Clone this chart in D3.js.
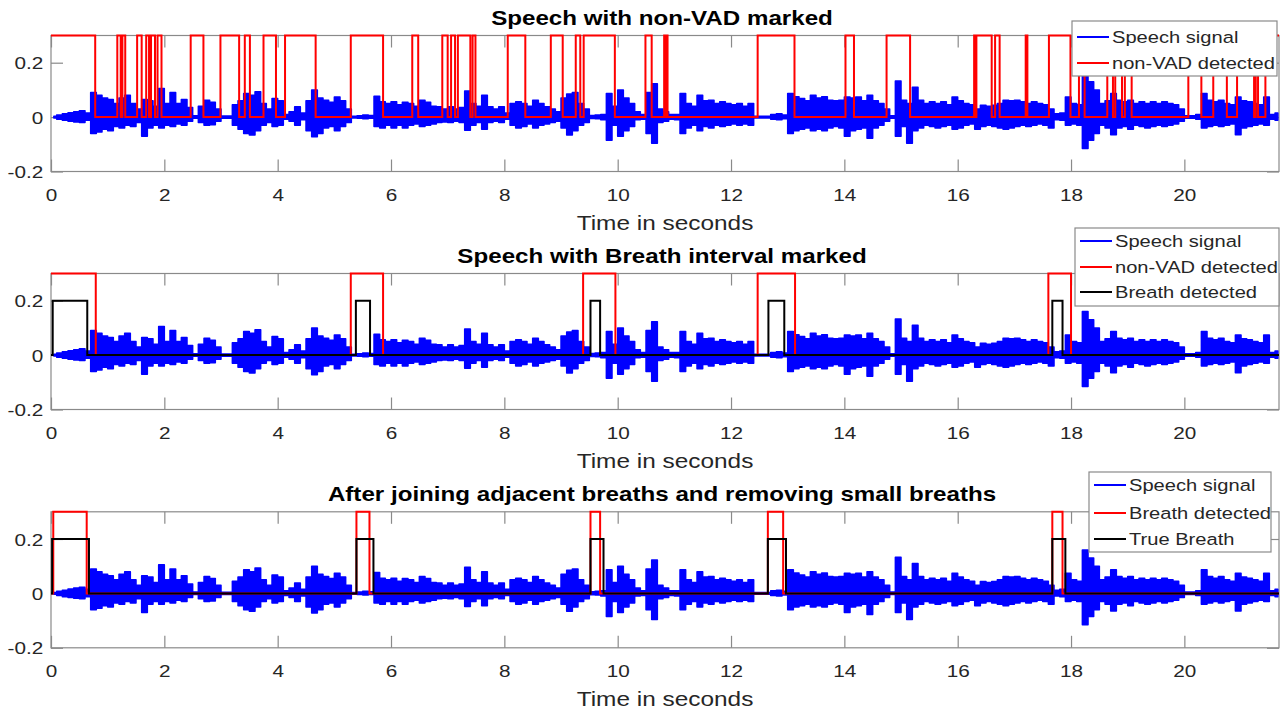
<!DOCTYPE html>
<html>
<head>
<meta charset="utf-8">
<script src="https://cdn.jsdelivr.net/npm/d3@7"></script>
<style>
  html, body { margin: 0; padding: 0; background: #fff; }
  svg { display: block; font-family: "Liberation Sans", Arial, Helvetica, sans-serif; }
</style>
</head>
<body>
<svg id="chart" width="1283" height="713"></svg>
<script>
// Speech envelope, one value per 0.1 s bin
const BIN = 0.1;
const T_END = 21.67;
const speechUpper = [
  0.003, 0.008, 0.012, 0.016, 0.02, 0.023, 0.015, 0.09, 0.08, 0.07,
  0.065, 0.05, 0.07, 0.08, 0.05, 0.03, 0.065, 0.06, 0.04, 0.105,
  0.05, 0.09, 0.05, 0.065, 0.035, 0.005, 0.04, 0.062, 0.055, 0.03,
  0.004, 0.004, 0.045, 0.06, 0.087, 0.08, 0.093, 0.05, 0.03, 0.068,
  0.06, 0.01, 0.02, 0.038, 0.015, 0.06, 0.1, 0.07, 0.062, 0.055,
  0.074, 0.06, 0.03, 0.003, 0.005, 0.008, 0.006, 0.077, 0.056, 0.05,
  0.056, 0.045, 0.055, 0.05, 0.04, 0.062, 0.055, 0.04, 0.038, 0.03,
  0.038, 0.03, 0.035, 0.096, 0.05, 0.04, 0.08, 0.038, 0.03, 0.038,
  0.015, 0.05, 0.056, 0.05, 0.04, 0.062, 0.05, 0.038, 0.03, 0.02,
  0.07, 0.085, 0.09, 0.05, 0.03, 0.006, 0.008, 0.01, 0.087, 0.04,
  0.1, 0.07, 0.05, 0.02, 0.01, 0.09, 0.123, 0.03, 0.02, 0.01,
  0.01, 0.087, 0.05, 0.04, 0.08, 0.06, 0.062, 0.05, 0.056, 0.05,
  0.045, 0.05, 0.04, 0.05, 0.003, 0.003, 0.003, 0.01, 0.012, 0.008,
  0.087, 0.075, 0.068, 0.06, 0.08, 0.07, 0.075, 0.062, 0.06, 0.062,
  0.074, 0.07, 0.074, 0.06, 0.08, 0.06, 0.05, 0.03, 0.005, 0.133,
  0.062, 0.05, 0.11, 0.062, 0.05, 0.056, 0.05, 0.056, 0.045, 0.074,
  0.06, 0.05, 0.045, 0.03, 0.044, 0.04, 0.044, 0.05, 0.062, 0.06,
  0.062, 0.056, 0.05, 0.056, 0.05, 0.045, 0.03, 0.012, 0.015, 0.074,
  0.05, 0.045, 0.16, 0.13, 0.1, 0.05, 0.06, 0.087, 0.062, 0.056,
  0.062, 0.05, 0.056, 0.05, 0.056, 0.05, 0.056, 0.05, 0.045, 0.03,
  0.005, 0.005, 0.01, 0.087, 0.062, 0.056, 0.062, 0.05, 0.045, 0.074,
  0.06, 0.056, 0.05, 0.045, 0.074, 0.01, 0.015
];
const speechLower = [
  -0.003, -0.008, -0.012, -0.015, -0.018, -0.02, -0.012, -0.06, -0.055, -0.045,
  -0.05, -0.035, -0.04, -0.03, -0.035, -0.02, -0.07, -0.04, -0.03, -0.04,
  -0.03, -0.035, -0.025, -0.03, -0.015, -0.004, -0.02, -0.03, -0.028, -0.015,
  -0.004, -0.004, -0.03, -0.045, -0.06, -0.066, -0.05, -0.03, -0.02, -0.035,
  -0.03, -0.008, -0.015, -0.03, -0.01, -0.05, -0.072, -0.06, -0.04, -0.035,
  -0.05, -0.035, -0.02, -0.003, -0.004, -0.006, -0.004, -0.035, -0.04, -0.03,
  -0.04, -0.03, -0.04, -0.03, -0.025, -0.035, -0.03, -0.025, -0.02, -0.018,
  -0.02, -0.015, -0.02, -0.048, -0.03, -0.02, -0.045, -0.02, -0.015, -0.02,
  -0.008, -0.03, -0.04, -0.035, -0.025, -0.04, -0.03, -0.025, -0.02, -0.015,
  -0.04, -0.066, -0.05, -0.03, -0.02, -0.005, -0.006, -0.01, -0.085, -0.03,
  -0.07, -0.05, -0.035, -0.01, -0.008, -0.06, -0.096, -0.02, -0.015, -0.008,
  -0.01, -0.06, -0.04, -0.03, -0.05, -0.035, -0.04, -0.03, -0.035, -0.03,
  -0.025, -0.03, -0.025, -0.03, -0.003, -0.003, -0.003, -0.008, -0.01, -0.006,
  -0.06, -0.05, -0.045, -0.04, -0.05, -0.045, -0.05, -0.04, -0.035, -0.04,
  -0.07, -0.05, -0.045, -0.04, -0.078, -0.04, -0.03, -0.015, -0.004, -0.07,
  -0.035, -0.096, -0.05, -0.04, -0.03, -0.035, -0.04, -0.035, -0.03, -0.045,
  -0.04, -0.03, -0.025, -0.045, -0.035, -0.03, -0.035, -0.04, -0.045, -0.04,
  -0.035, -0.03, -0.035, -0.03, -0.025, -0.03, -0.04, -0.01, -0.012, -0.03,
  -0.025, -0.03, -0.115, -0.085, -0.06, -0.03, -0.04, -0.065, -0.04, -0.035,
  -0.045, -0.03, -0.035, -0.04, -0.035, -0.03, -0.035, -0.03, -0.025, -0.015,
  -0.004, -0.004, -0.008, -0.04, -0.035, -0.03, -0.035, -0.03, -0.025, -0.065,
  -0.04, -0.035, -0.03, -0.025, -0.03, -0.008, -0.012
];

// [start, end] in seconds where the detector is on
const nonVad1 = [
  [0, 0.78], [1.17, 1.23], [1.26, 1.31], [1.52, 1.60], [1.68, 1.73], [1.765, 1.835],
  [1.88, 1.95], [2.465, 2.69], [2.99, 3.32], [3.42, 3.51], [3.75, 3.97], [4.13, 4.67],
  [5.29, 5.86], [6.375, 6.48], [6.905, 7.0], [7.06, 7.13], [7.18, 7.40], [7.44, 7.49],
  [8.06, 8.37], [8.82, 9.03], [9.26, 9.34], [9.40, 9.95], [10.49, 10.60], [10.82, 10.84],
  [10.86, 10.88], [12.47, 13.12], [14.02, 14.17], [14.745, 15.16], [16.29, 16.31],
  [16.33, 16.60], [16.66, 16.74], [17.20, 17.23], [17.61, 17.99], [18.14, 18.24],
  [18.64, 18.74], [18.78, 18.90], [18.95, 19.07], [20.07, 20.30], [20.51, 20.75],
  [20.93, 21.23], [21.26, 21.30], [21.43, 21.67]
];
const nonVad2 = [[0, 0.79], [5.29, 5.86], [9.39, 9.96], [12.47, 13.13], [17.60, 18.0]];
const breath2 = [[0.03, 0.64], [5.38, 5.63], [9.52, 9.69], [12.66, 12.94], [17.67, 17.85]];
const breath3 = [[0.04, 0.63], [5.39, 5.62], [9.52, 9.69], [12.65, 12.92], [17.67, 17.85]];
const trueBreath3 = [[0.02, 0.67], [5.39, 5.69], [9.52, 9.75], [12.65, 12.97], [17.67, 17.90]];

const titles = [
  'Speech with non-VAD marked',
  'Speech with Breath interval marked',
  'After joining adjacent breaths and removing small breaths'
];
const xTicks = [0, 2, 4, 6, 8, 10, 12, 14, 16, 18, 20];
const yTicks = [-0.2, 0, 0.2];

const panels = [
  { top: 35.5, steps: [{ iv: nonVad1, h: 0.3, color: '#ff0000' }],
    legend: { x: 1072, y: 21, w: 205, h: 55, rows: [37, 63], labels: ['Speech signal', 'non-VAD detected'], colors: ['#0000ff', '#ff0000'] } },
  { top: 273.5, steps: [{ iv: nonVad2, h: 0.3, color: '#ff0000' }, { iv: breath2, h: 0.2, color: '#000' }],
    legend: { x: 1075, y: 228, w: 204, h: 78, rows: [241, 267, 292], labels: ['Speech signal', 'non-VAD detected', 'Breath detected'], colors: ['#0000ff', '#ff0000', '#000'] } },
  { top: 511.8, steps: [{ iv: breath3, h: 0.3, color: '#ff0000' }, { iv: trueBreath3, h: 0.2, color: '#000' }],
    legend: { x: 1089, y: 472, w: 182, h: 80, rows: [485, 513, 539], labels: ['Speech signal', 'Breath detected', 'True Breath'], colors: ['#0000ff', '#ff0000', '#000'] } }
];

const SX = 1.22;           // the source picture is stretched horizontally
const axisColor = '#8a8a8a';
const textColor = '#262626';
const AX_H = 136;

const svg = d3.select('#chart');
const x = d3.scaleLinear().domain([0, T_END]).range([51, 1279]);

const speechPts = speechUpper.map((u, i) => ({ t: Math.min(i * BIN + BIN / 2, T_END), u, l: speechLower[i] }));

function stepPoints(intervals, h) {
  const pts = [];
  intervals.forEach(([a, b]) => {
    if (a > 0) pts.push([a, 0]);
    pts.push([a, h], [b, h]);
    if (b < T_END) pts.push([b, 0]);
  });
  if (pts[0][0] > 0) pts.unshift([0, 0]);
  if (pts[pts.length - 1][0] < T_END) pts.push([T_END, 0]);
  return pts;
}

panels.forEach((p, k) => {
  const y = d3.scaleLinear().domain([-0.2, 0.3]).range([p.top + AX_H, p.top]);
  const g = svg.append('g');

  // axes box + inward ticks
  g.append('rect')
    .attr('x', x(0)).attr('y', p.top)
    .attr('width', x(T_END) - x(0)).attr('height', AX_H)
    .attr('fill', 'none').attr('stroke', axisColor).attr('stroke-width', 1.2);

  const bottom = g.append('g').attr('transform', `translate(0,${p.top + AX_H})`)
    .call(d3.axisBottom(x).tickValues(xTicks).tickSize(-12).tickPadding(17).tickFormat(d3.format('d')));
  const top = g.append('g').attr('transform', `translate(0,${p.top})`)
    .call(d3.axisTop(x).tickValues(xTicks).tickSize(-12).tickFormat(''));
  const left = g.append('g').attr('transform', `translate(${x(0)},0)`)
    .call(d3.axisLeft(y).tickValues(yTicks).tickSize(-12).tickPadding(6)
      .tickFormat(d => d === 0 ? '0' : d.toFixed(1)));
  const right = g.append('g').attr('transform', `translate(${x(T_END)},0)`)
    .call(d3.axisRight(y).tickValues(yTicks).tickSize(-12).tickFormat(''));
  [bottom, top, left, right].forEach(a => {
    a.select('.domain').remove();
    a.selectAll('line').attr('stroke', axisColor).attr('stroke-width', 1.2);
  });
  bottom.selectAll('text')
    .attr('font-size', 17).attr('fill', textColor)
    .attr('font-family', null)
    .attr('transform', `scale(${SX},1)`);
  left.selectAll('text')
    .attr('font-size', 17).attr('fill', textColor)
    .attr('font-family', null)
    .attr('x', -7.7 / SX).attr('dy', '0.36em')
    .attr('transform', `scale(${SX},1)`);

  // title and x label
  const cx = (x(0) + x(T_END)) / 2;
  g.append('text')
    .attr('transform', `translate(${cx - 3},${p.top - 11}) scale(${SX},1)`)
    .attr('text-anchor', 'middle').attr('font-size', 19.8).attr('font-weight', 'bold')
    .attr('fill', '#000').text(titles[k]);
  g.append('text')
    .attr('transform', `translate(${cx},${p.top + AX_H + 58}) scale(${SX},1)`)
    .attr('text-anchor', 'middle').attr('font-size', 20)
    .attr('fill', textColor).text('Time in seconds');

  // speech signal
  g.append('path')
    .datum(speechPts)
    .attr('d', d3.area().curve(d3.curveStep).x(d => x(d.t)).y0(d => y(d.l)).y1(d => y(d.u)))
    .attr('fill', '#0000ff').attr('stroke', '#0000ff').attr('stroke-width', 1.5)
    .attr('stroke-linejoin', 'round');

  // step markers
  p.steps.forEach(s => {
    g.append('path')
      .datum(stepPoints(s.iv, s.h))
      .attr('d', d3.line().x(d => x(d[0])).y(d => y(d[1])))
      .attr('fill', 'none').attr('stroke', s.color).attr('stroke-width', 2);
  });

  // legend
  const L = p.legend;
  const lg = svg.append('g');
  lg.append('rect')
    .attr('x', L.x).attr('y', L.y).attr('width', L.w).attr('height', L.h)
    .attr('fill', '#fff').attr('stroke', axisColor).attr('stroke-width', 1.2);
  L.rows.forEach((ry, i) => {
    lg.append('line')
      .attr('x1', L.x + 5).attr('x2', L.x + 37).attr('y1', ry).attr('y2', ry)
      .attr('stroke', L.colors[i]).attr('stroke-width', 2);
    lg.append('text')
      .attr('transform', `translate(${L.x + 40},${ry + 6}) scale(${SX},1)`)
      .attr('font-size', 16.5).attr('fill', textColor).text(L.labels[i]);
  });
});
</script>
</body>
</html>
